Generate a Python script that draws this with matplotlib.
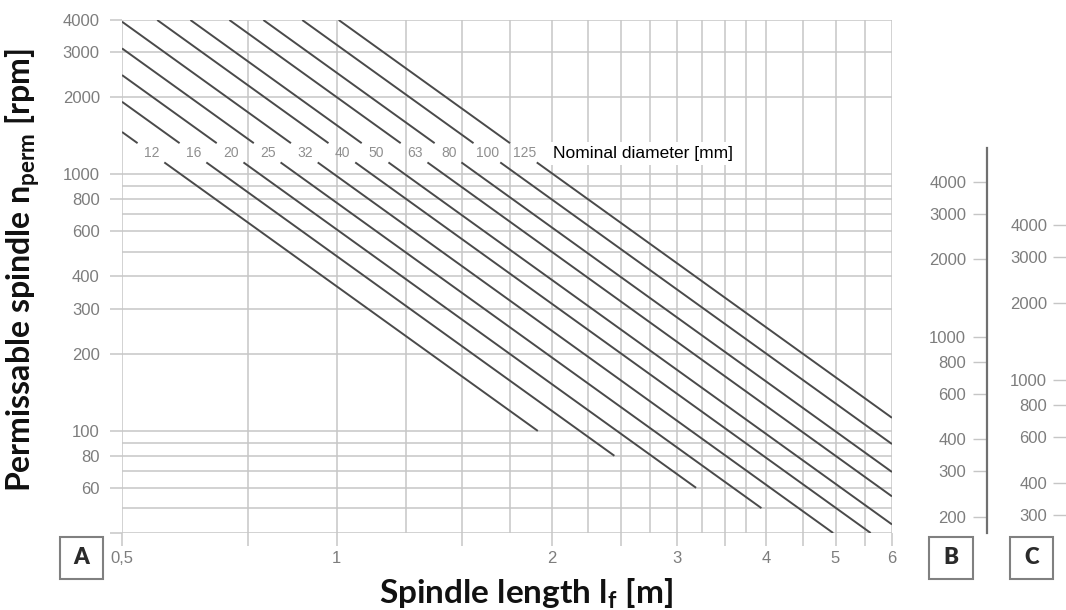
#!/usr/bin/env python3
"""
Permissible spindle speed chart (critical speed vs spindle length)
"""

import numpy as np
import matplotlib
matplotlib.use("Agg")
import matplotlib.pyplot as plt
from matplotlib.patches import Rectangle
from matplotlib.ticker import FixedLocator, FixedFormatter, NullFormatter

# nominal diameters and the speed each line reads at 1 m spindle length
diameters = [12, 16, 20, 25, 32, 40, 50, 63, 80, 100, 125]
rpm_at_1m = [366, 480, 610, 775, 985, 1255, 1555, 2000, 2490, 3200, 4050]
# lowest speed where each line stops
end_rpm = [100, 80, 60, 50, 40, 40, 40, 40, 40, 40, 40]

# axis A (main chart)
x_major = [0.5, 0.75, 1, 1.5, 2, 2.5, 3, 3.5, 4, 4.5, 5, 5.5, 6]
x_labels = ["0,5", "", "1", "", "2", "", "3", "", "4", "", "5", "", "6"]
x_minor = [1.25, 1.75, 2.25, 2.75, 3.25, 3.75]
y_major = [40, 60, 80, 100, 200, 300, 400, 600, 800, 1000, 2000, 3000, 4000]
y_labels = ["", "60", "80", "100", "200", "300", "400", "600", "800",
            "1000", "2000", "3000", "4000"]
y_minor = [50, 70, 90, 500, 700, 900]

# scales B and C
b_ticks = [200, 300, 400, 600, 800, 1000, 2000, 3000, 4000]
b_range = (173, 5410)
c_ticks = [300, 400, 600, 800, 1000, 2000, 3000, 4000]
c_range = (255, 7975)

label_rpm = 1208          # row of diameter labels
gap_rpm = (1114, 1324)    # lines are broken around the labels

W, H = 1066, 610
GRID = "#c6c6c6"
LINE = "#4a4a4a"
TICKTXT = "#7d7d7d"

plt.rcParams["mathtext.fontset"] = "custom"
plt.rcParams["mathtext.rm"] = "Lato:bold"


def fbox(x0, y0, x1, y1):
    """pixel box (top-left origin) -> figure rect"""
    return [x0 / W, 1 - y1 / H, (x1 - x0) / W, (y1 - y0) / H]


def plot_chart():
    fig = plt.figure(figsize=(W / 100, H / 100), dpi=100)
    ax = fig.add_axes(fbox(122, 20, 892, 533))
    ax.set_xscale("log")
    ax.set_yscale("log")
    ax.set_xlim(0.5, 6)
    ax.set_ylim(40, 4000)
    for s in ax.spines.values():
        s.set_visible(False)

    ax.xaxis.set_major_locator(FixedLocator(x_major))
    ax.xaxis.set_major_formatter(FixedFormatter(x_labels))
    ax.xaxis.set_minor_locator(FixedLocator(x_minor))
    ax.xaxis.set_minor_formatter(NullFormatter())
    ax.yaxis.set_major_locator(FixedLocator(y_major))
    ax.yaxis.set_major_formatter(FixedFormatter(y_labels))
    ax.yaxis.set_minor_locator(FixedLocator(y_minor))
    ax.yaxis.set_minor_formatter(NullFormatter())

    ax.tick_params(which="major", length=9, width=1.1, color=GRID,
                   labelcolor=TICKTXT, labelsize=12)
    ax.tick_params(axis="y", which="major", pad=7)
    ax.tick_params(axis="x", which="major", pad=4)
    ax.tick_params(which="minor", length=0)
    for lab in ax.get_xticklabels() + ax.get_yticklabels():
        lab.set_family("Liberation Sans")
    ax.grid(True, which="both", color=GRID, lw=1.1)
    ax.set_axisbelow(True)

    # diameter lines: n = C / L^2
    for d, c, nmin in zip(diameters, rpm_at_1m, end_rpm):
        l_start = max(0.5, np.sqrt(c / 4000))
        l_end = min(6, np.sqrt(c / nmin))
        l_g1 = np.sqrt(c / gap_rpm[1])
        l_g2 = np.sqrt(c / gap_rpm[0])
        segs = []
        if l_g1 > l_start:
            segs.append((l_start, l_g1))
        segs.append((max(l_g2, l_start), l_end))
        for a, b in segs:
            ax.plot([a, b], [c / a**2, c / b**2], color=LINE, lw=1.4,
                    solid_capstyle="butt", zorder=3)
        ax.text(np.sqrt(c / label_rpm), label_rpm, str(d), ha="center",
                va="center", fontsize=10, color="#8f8f8f",
                family="Liberation Sans", zorder=4)

    ax.text(0.5597, label_rpm, "Nominal diameter [mm]",
            transform=ax.get_yaxis_transform(), ha="left", va="center",
            fontsize=12.5, color="black", family="Liberation Sans",
            bbox=dict(facecolor="white", edgecolor="none", pad=3), zorder=5)

    # scale B
    axb = fig.add_axes(fbox(987, 148, 990, 533))
    axb.set_yscale("log")
    axb.set_ylim(*b_range)
    axb.set_xticks([])
    for k in ("top", "right", "bottom"):
        axb.spines[k].set_visible(False)
    axb.spines["left"].set_color("#707070")
    axb.spines["left"].set_linewidth(1.6)
    axb.patch.set_alpha(0)
    axb.yaxis.set_major_locator(FixedLocator(b_ticks))
    axb.yaxis.set_major_formatter(FixedFormatter([str(t) for t in b_ticks]))
    axb.yaxis.set_minor_locator(FixedLocator([]))
    axb.tick_params(axis="y", length=10, width=1.0, color=GRID,
                    labelcolor=TICKTXT, labelsize=12, pad=5)

    # scale C
    axc = fig.add_axes(fbox(1068, 148, 1070, 533))
    axc.set_yscale("log")
    axc.set_ylim(*c_range)
    axc.set_xticks([])
    for s in axc.spines.values():
        s.set_visible(False)
    axc.patch.set_alpha(0)
    axc.yaxis.set_major_locator(FixedLocator(c_ticks))
    axc.yaxis.set_major_formatter(FixedFormatter([str(t) for t in c_ticks]))
    axc.yaxis.set_minor_locator(FixedLocator([]))
    axc.tick_params(axis="y", length=11, width=1.0, color=GRID,
                    labelcolor=TICKTXT, labelsize=12, pad=4)

    for a in (axb, axc):
        for lab in a.get_yticklabels():
            lab.set_family("Liberation Sans")

    # boxed letters
    for letter, (x0, x1) in zip("ABC", [(60, 103), (929, 973), (1010, 1053)]):
        r = fbox(x0, 537, x1, 579)
        fig.patches.append(Rectangle((r[0], r[1]), r[2], r[3],
                                     transform=fig.transFigure, fill=False,
                                     edgecolor="#808080", lw=1.5))
        fig.text(r[0] + r[2] / 2, r[1] + r[3] / 2, letter, ha="center",
                 va="center", fontsize=16, fontweight="heavy",
                 family="Lato", color="#2a2a2a")

    # axis titles
    fig.text(526 / W, 1 - 594 / H, r"Spindle length l$_\mathrm{f}$ [m]",
             ha="center", va="center", fontsize=24, fontweight="bold",
             family="Lato", color="#111111")
    fig.text(23 / W, 1 - 270 / H,
             r"Permissable spindle n$_\mathrm{perm}$ [rpm]",
             ha="center", va="center", rotation=90, fontsize=23,
             fontweight="bold", family="Lato", color="#111111")

    fig.savefig("out.png", dpi=100)


if __name__ == "__main__":
    plot_chart()
